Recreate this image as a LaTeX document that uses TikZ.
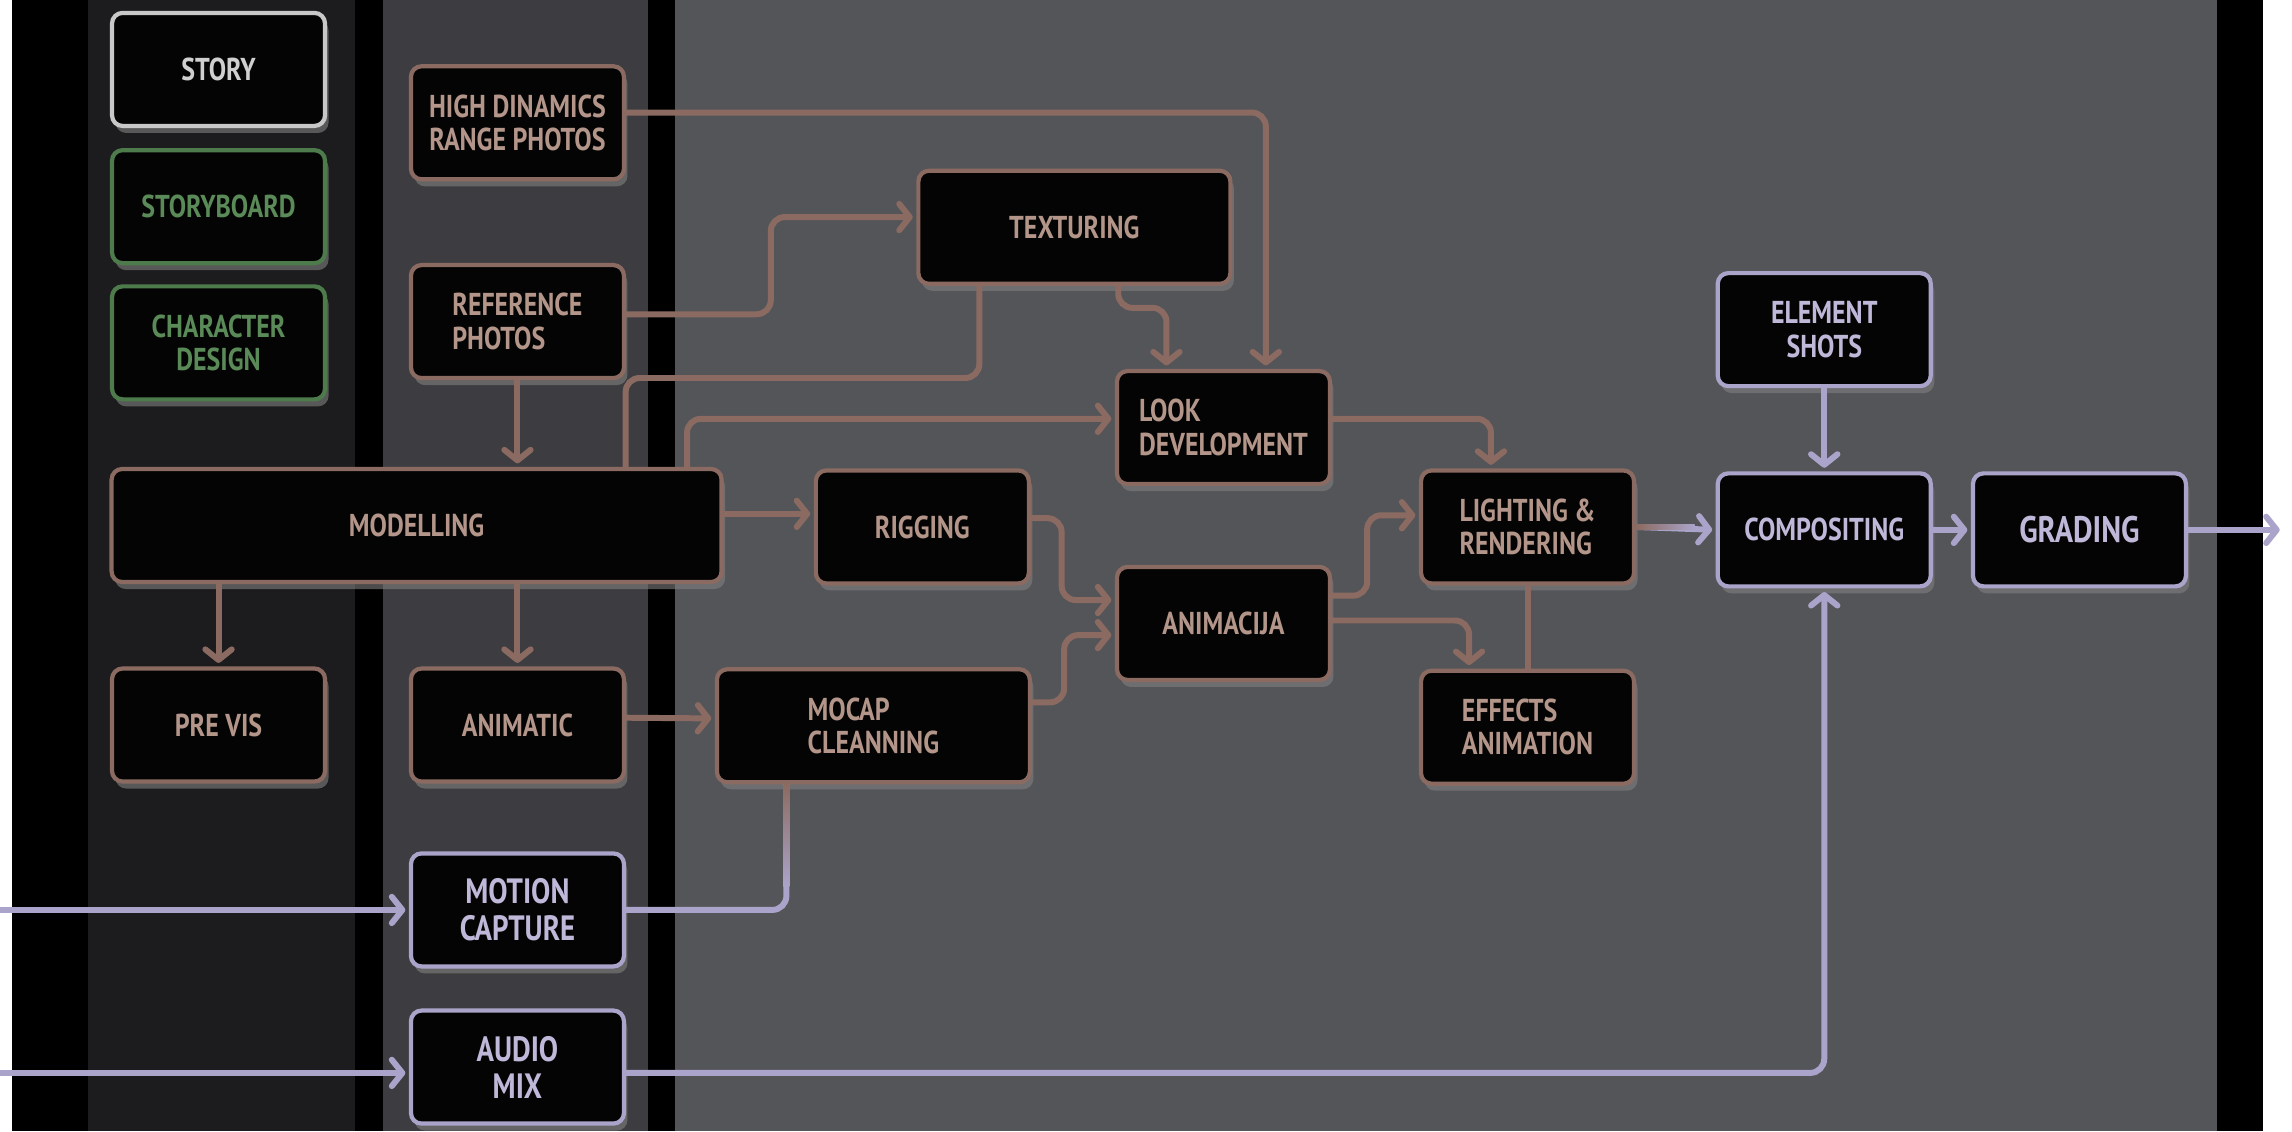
\documentclass[tikz,border=0pt]{standalone}
\usepackage{fontspec}
\setmainfont{PT Sans}[FakeStretch=0.82]
\usetikzlibrary{arrows.meta,positioning,calc,shadows}
\definecolor{MainGray}{HTML}{545559}
\definecolor{ColGray}{HTML}{3D3D41}
\definecolor{ColDark}{HTML}{1C1C1E}
\definecolor{BoxFill}{HTML}{040404}
\definecolor{StageBrown}{HTML}{8B6B61}
\definecolor{TextBrown}{HTML}{B39589}
\definecolor{LavLine}{HTML}{ABA4CA}
\definecolor{LavText}{HTML}{BFB8D8}
\definecolor{GrnLine}{HTML}{4E7B4C}
\definecolor{GrnText}{HTML}{5A8A58}
\definecolor{WhtLine}{HTML}{C8C8C8}
\definecolor{WhtText}{HTML}{CFCFCF}
\tikzset{
  stage/.style    = {draw=StageBrown, fill=BoxFill, rounded corners=3pt, line width=1.2pt,
                     text=TextBrown, align=center, font=\fontsize{9}{9.5}\selectfont\bfseries,
                     minimum width=2.13cm, minimum height=1.13cm, inner sep=2pt,
                     drop shadow={shadow xshift=1pt, shadow yshift=-2pt, opacity=.6}},
  stagelav/.style = {stage, draw=LavLine, text=LavText},
  stagegrn/.style = {stage, draw=GrnLine, text=GrnText},
  stagewht/.style = {stage, draw=WhtLine, text=WhtText},
  flow/.style     = {draw=StageBrown, line width=1.7pt, rounded corners=4pt,
                     -{Straight Barb[round,length=3pt,width=7.5pt]}, shorten >=1pt},
  flowlav/.style  = {flow, draw=LavLine},
  link/.style     = {draw=StageBrown, line width=1.7pt, rounded corners=4pt},
}
\begin{document}
\begin{tikzpicture}[x=0.014617cm, y=-0.014617cm]
  \useasboundingbox (0,0) rectangle (1568,774);
  % columns
  \fill[white] (0,0) rectangle (1568,774);
  \fill[black] (8,0) rectangle (1548,774);
  \fill[ColDark] (60,0) rectangle (243,774);
  \fill[ColGray] (262,0) rectangle (443,774);
  \fill[MainGray] (462,0) rectangle (1517,774);

  % story column
  \node[stagewht] (story) at (149.5,47.5) {STORY};
  \node[stagegrn, below=0.2cm of story] (storyboard) {STORYBOARD};
  \node[stagegrn, below=0.19cm of storyboard] (chardesign) {CHARACTER\\DESIGN};
  \node[stage] (previs) at (149.5,496) {PRE VIS};

  % reference column
  \node[stage] (hdr) at (354,84) {HIGH DINAMICS\\RANGE PHOTOS};
  \node[stage, align=left] (refphotos) at (354,220) {REFERENCE\\PHOTOS};
  \node[stage, minimum width=6.1cm] (modelling) at (285,359.5) {MODELLING};
  \node[stage] (animatic) at (354,496) {ANIMATIC};
  \node[stagelav, font=\fontsize{10}{10.5}\selectfont\bfseries] (motioncap) at (354,622.5) {MOTION\\CAPTURE};
  \node[stagelav, font=\fontsize{10}{10.5}\selectfont\bfseries] (audiomix) at (354,730) {AUDIO\\MIX};

  % production
  \node[stage, minimum width=3.12cm] (texturing) at (735,155.5) {TEXTURING};
  \node[stage, align=left] (lookdev) at (837,292.5) {LOOK\\DEVELOPMENT};
  \node[stage] (rigging) at (631,360.5) {RIGGING};
  \node[stage] (animacija) at (837,426.5) {ANIMACIJA};
  \node[stage, minimum width=3.13cm, align=left] (mocap) at (597.5,496.5) {MOCAP\\CLEANNING};
  \node[stage, align=left] (lighting) at (1045,360.5) {LIGHTING \&\\RENDERING};
  \node[stage, align=left] (effects) at (1045,497.5) {EFFECTS\\ANIMATION};

  % post
  \node[stagelav] (elemshots) at (1248,225.5) {ELEMENT\\SHOTS};
  \node[stagelav] (compositing) at (1248,362.5) {COMPOSITING};
  \node[stagelav, right=0.38cm of compositing, font=\fontsize{10.5}{11}\selectfont\bfseries] (grading) {GRADING};

  \coordinate (mcin) at (0,622.5);
  \coordinate (amin) at (0,734);
  \coordinate (gradeout) at (1562,362.5);

  % brown flow
  \draw[flow] ($(hdr.east)+(0,-7)$) -| ($(lookdev.north)+(29,0)$);
  \draw[flow] ($(refphotos.east)+(0,-5)$) -- ++(99,0) |- ($(texturing.west)+(0,-7)$);
  \draw[link] ($(texturing.south)+(-65,0)$) -- ++(0,63) -| ($(modelling.north)+(143,0)$);
  \draw[flow] (refphotos.south) -- (refphotos.south |- modelling.north);
  \draw[flow] ($(modelling.north)+(185,0)$) |- ($(lookdev.west)+(0,-6)$);
  \draw[flow] ($(modelling.east)+(0,-8)$) -- ($(rigging.west)+(0,-9)$);
  \draw[flow] ($(texturing.south)+(30,0)$) -- ++(0,15) -| ($(lookdev.north)+(-39,0)$);
  \draw[flow] ($(lookdev.east)+(0,-6)$) -| ($(lighting.north)+(-25,0)$);
  \draw[flow] ($(rigging.east)+(0,-6)$) -- ++(21,0) |- ($(animacija.west)+(0,-16)$);
  \draw[flow] ($(mocap.east)+(0,-16)$) -- ++(22,0) |- ($(animacija.west)+(0,8)$);
  \draw[flow] ($(animacija.east)+(0,-19)$) -- ++(24,0) |- ($(lighting.west)+(0,-8)$);
  \draw[flow] ($(animacija.east)+(0,-2)$) -| ($(effects.north)+(-40,0)$);
  \draw[link] (lighting.south) -- (effects.north);
  \draw[flow] (previs.north |- modelling.south) -- (previs.north);
  \draw[flow] (animatic.north |- modelling.south) -- (animatic.north);
  \draw[flow] ($(animatic.east)+(0,-5)$) -- ($(mocap.west)+(0,-5)$);

  % lavender flow
  \draw[flowlav] (lighting.east) -- (compositing.west);
  \shade[left color=StageBrown, right color=LavLine] ($(lighting.east)+(0,-2)$) rectangle ($(lighting.east)+(40,2)$);
  \draw[flowlav] (elemshots.south) -- (compositing.north);
  \draw[flowlav] (compositing.east) -- (grading.west);
  \draw[flowlav] (grading.east) -- (gradeout);
  \draw[flowlav] ($(audiomix.east)+(0,4)$) -| (compositing.south);
  \draw[link, draw=LavLine] (motioncap.east) -| ($(mocap.south)+(-59.5,0)$);
  \shade[top color=StageBrown, bottom color=LavLine] ($(mocap.south)+(-61.5,0)$) rectangle ($(mocap.south)+(-57.5,70)$);
  \draw[flowlav] (mcin) -- (motioncap.west);
  \draw[flowlav] (amin) -- ($(audiomix.west)+(0,4)$);
\end{tikzpicture}
\end{document}
